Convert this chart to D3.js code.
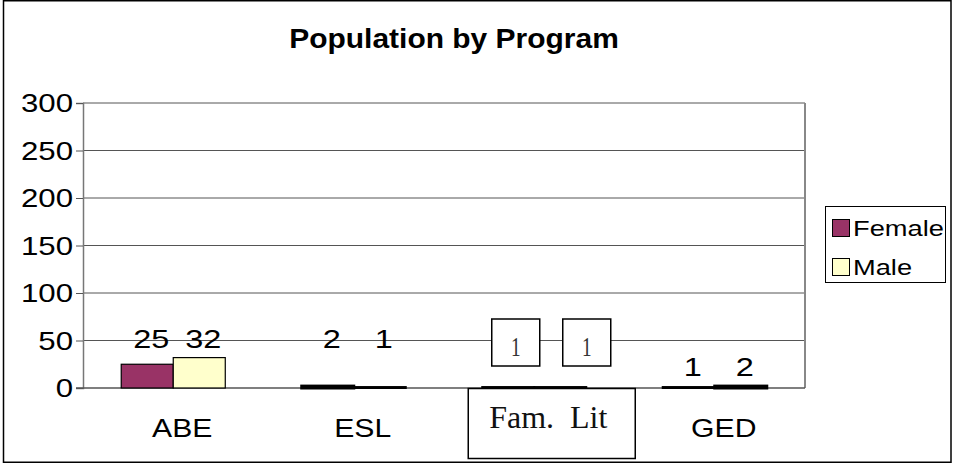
<!DOCTYPE html>
<html>
<head>
<meta charset="utf-8">
<script src="https://cdn.jsdelivr.net/npm/d3@7"></script>
<style>
  body { margin: 0; background: #fff; }
  text { font-family: "Liberation Sans", Arial, sans-serif; }
</style>
</head>
<body>
<div id="chart"></div>
<script>
const categories = ['ABE', 'ESL', 'Fam. Lit', 'GED']
const seriesNames = ['Female', 'Male']
const female = [25, 2, 1, 1]
const male = [32, 1, 1, 2]
const yTicks = [0, 50, 100, 150, 200, 250, 300]

const width = 953
const height = 465
const colors = { Female: '#993366', Male: '#ffffcc' }
const serif = '"Liberation Serif", "Times New Roman", serif'
const boxedCat = 'Fam. Lit'    // this category has its labels in text boxes
const labelLift = { ESL: 28 }  // labels that were dragged up by hand

const plot = { left: 83, right: 805, top: 103, bottom: 388 }

const svg = d3.select('#chart').append('svg')
    .attr('width', width)
    .attr('height', height)

const rows = categories.map((c, i) => ({ cat: c, Female: female[i], Male: male[i] }))

const xScale = d3.scaleBand()
    .domain(categories)
    .range([plot.left, plot.right])

const xSub = d3.scaleBand()
    .domain(seriesNames)
    .range([0, xScale.bandwidth()])
    .paddingOuter(0.735)

const yScale = d3.scaleLinear()
    .domain([0, d3.max(yTicks)])
    .range([plot.bottom, plot.top])

// the old chart draws its text a bit wider than normal
const wideText = (g, x, y, str, size, anchor, sx, sy) => {
    return g.append('text')
        .attr('transform', `translate(${x},${y}) scale(${sx || 1.16},${sy || 1})`)
        .attr('text-anchor', anchor || 'middle')
        .attr('font-size', size)
        .attr('fill', '#000')
        .text(str)
}

// outer frame
svg.append('rect')
    .attr('x', 3.5).attr('y', 0.75)
    .attr('width', 947.5).attr('height', 461.5)
    .attr('fill', '#fff')
    .attr('stroke', '#000')
    .attr('stroke-width', 1.5)

// title
wideText(svg, 454, 48, 'Population by Program', 27, 'middle', 1.11).attr('font-weight', 'bold')

// gridlines
svg.append('g')
    .selectAll('line')
    .data(yTicks.filter(d => d > 0))
    .enter()
    .append('line')
    .attr('x1', plot.left).attr('x2', plot.right)
    .attr('y1', d => yScale(d)).attr('y2', d => yScale(d))
    .attr('stroke', '#555')
    .attr('stroke-width', 1)

// plot area right edge
svg.append('line')
    .attr('x1', plot.right).attr('x2', plot.right)
    .attr('y1', plot.top).attr('y2', plot.bottom)
    .attr('stroke', '#888')
    .attr('stroke-width', 2)

// y axis
const yAxis = d3.axisLeft(yScale).tickValues(yTicks).tickSize(7).tickFormat('')
const yG = svg.append('g')
    .attr('transform', `translate(${plot.left},0)`)
    .call(yAxis)
yG.select('.domain').attr('stroke', '#777').attr('stroke-width', 1.5)
yG.selectAll('.tick line').attr('stroke', '#555')

yTicks.forEach(t => {
    wideText(svg, 73, yScale(t) + 9, t, 26, 'end', 1.2)
})

// baseline
svg.append('line')
    .attr('x1', plot.left - 7).attr('x2', plot.right)
    .attr('y1', plot.bottom).attr('y2', plot.bottom)
    .attr('stroke', '#555')
    .attr('stroke-width', 1.5)

// bars
const groups = svg.append('g')
    .selectAll('g')
    .data(rows)
    .enter()
    .append('g')
    .attr('transform', d => `translate(${xScale(d.cat)},0)`)

groups.selectAll('rect')
    .data(d => seriesNames.map(s => ({ cat: d.cat, key: s, value: d[s] })))
    .enter()
    .append('rect')
    .attr('x', d => xSub(d.key))
    .attr('y', d => yScale(d.value))
    .attr('width', xSub.bandwidth())
    .attr('height', d => yScale(0) - yScale(d.value))
    .attr('fill', d => colors[d.key])
    .attr('stroke', '#000')
    .attr('stroke-width', d => d.value < 5 ? d.value + 1 : 1.2)

// value labels, one row per category above its taller bar
rows.forEach(r => {
    const cx = xScale(r.cat) + xScale.bandwidth() / 2
    const top = d3.max(seriesNames, s => r[s])
    seriesNames.forEach((s, j) => {
        if (r.cat === boxedCat) {
            const bx = cx + 17 + (j === 0 ? -35.5 : 35.5)
            svg.append('rect')
                .attr('x', bx - 24).attr('y', 319)
                .attr('width', 48).attr('height', 47)
                .attr('fill', '#fff')
                .attr('stroke', '#000')
                .attr('stroke-width', 1.5)
            wideText(svg, bx, 356, r[s], 24, 'middle', 0.8, 1.15)
                .style('font-family', serif)
                .attr('fill', '#333')
        } else {
            const bxc = xScale(r.cat) + xSub(s) + xSub.bandwidth() / 2 + 4
            wideText(svg, bxc, yScale(top) - 10 - (labelLift[r.cat] || 0), r[s], 25, 'middle', 1.3)
        }
    })
})

// category labels
categories.forEach(c => {
    const cx = xScale(c) + xScale.bandwidth() / 2
    if (c === boxedCat) {
        svg.append('rect')
            .attr('x', cx - 66).attr('y', 388.5)
            .attr('width', 167).attr('height', 70)
            .attr('fill', 'none')
            .attr('stroke', '#000')
            .attr('stroke-width', 1.5)
        svg.append('text')
            .attr('x', cx + 14).attr('y', 428)
            .attr('text-anchor', 'middle')
            .style('font-family', serif)
            .style('white-space', 'pre')
            .attr('font-size', 32)
            .attr('fill', '#111')
            .text('Fam.  Lit')
    } else {
        wideText(svg, cx + 9, 437, c, 26)
    }
})

// legend
const legend = svg.append('g')
legend.append('rect')
    .attr('x', 825.5).attr('y', 206.5)
    .attr('width', 120).attr('height', 76)
    .attr('fill', '#fff')
    .attr('stroke', '#000')
    .attr('stroke-width', 1)
seriesNames.forEach((s, i) => {
    const ly = 219 + i * 39
    legend.append('rect')
        .attr('x', 832.5).attr('y', ly + 0.5)
        .attr('width', 17).attr('height', 17)
        .attr('fill', colors[s])
        .attr('stroke', '#000')
        .attr('stroke-width', 1)
    wideText(legend, 853, ly + 17, s, 22, 'start', 1.24)
})
</script>
</body>
</html>
